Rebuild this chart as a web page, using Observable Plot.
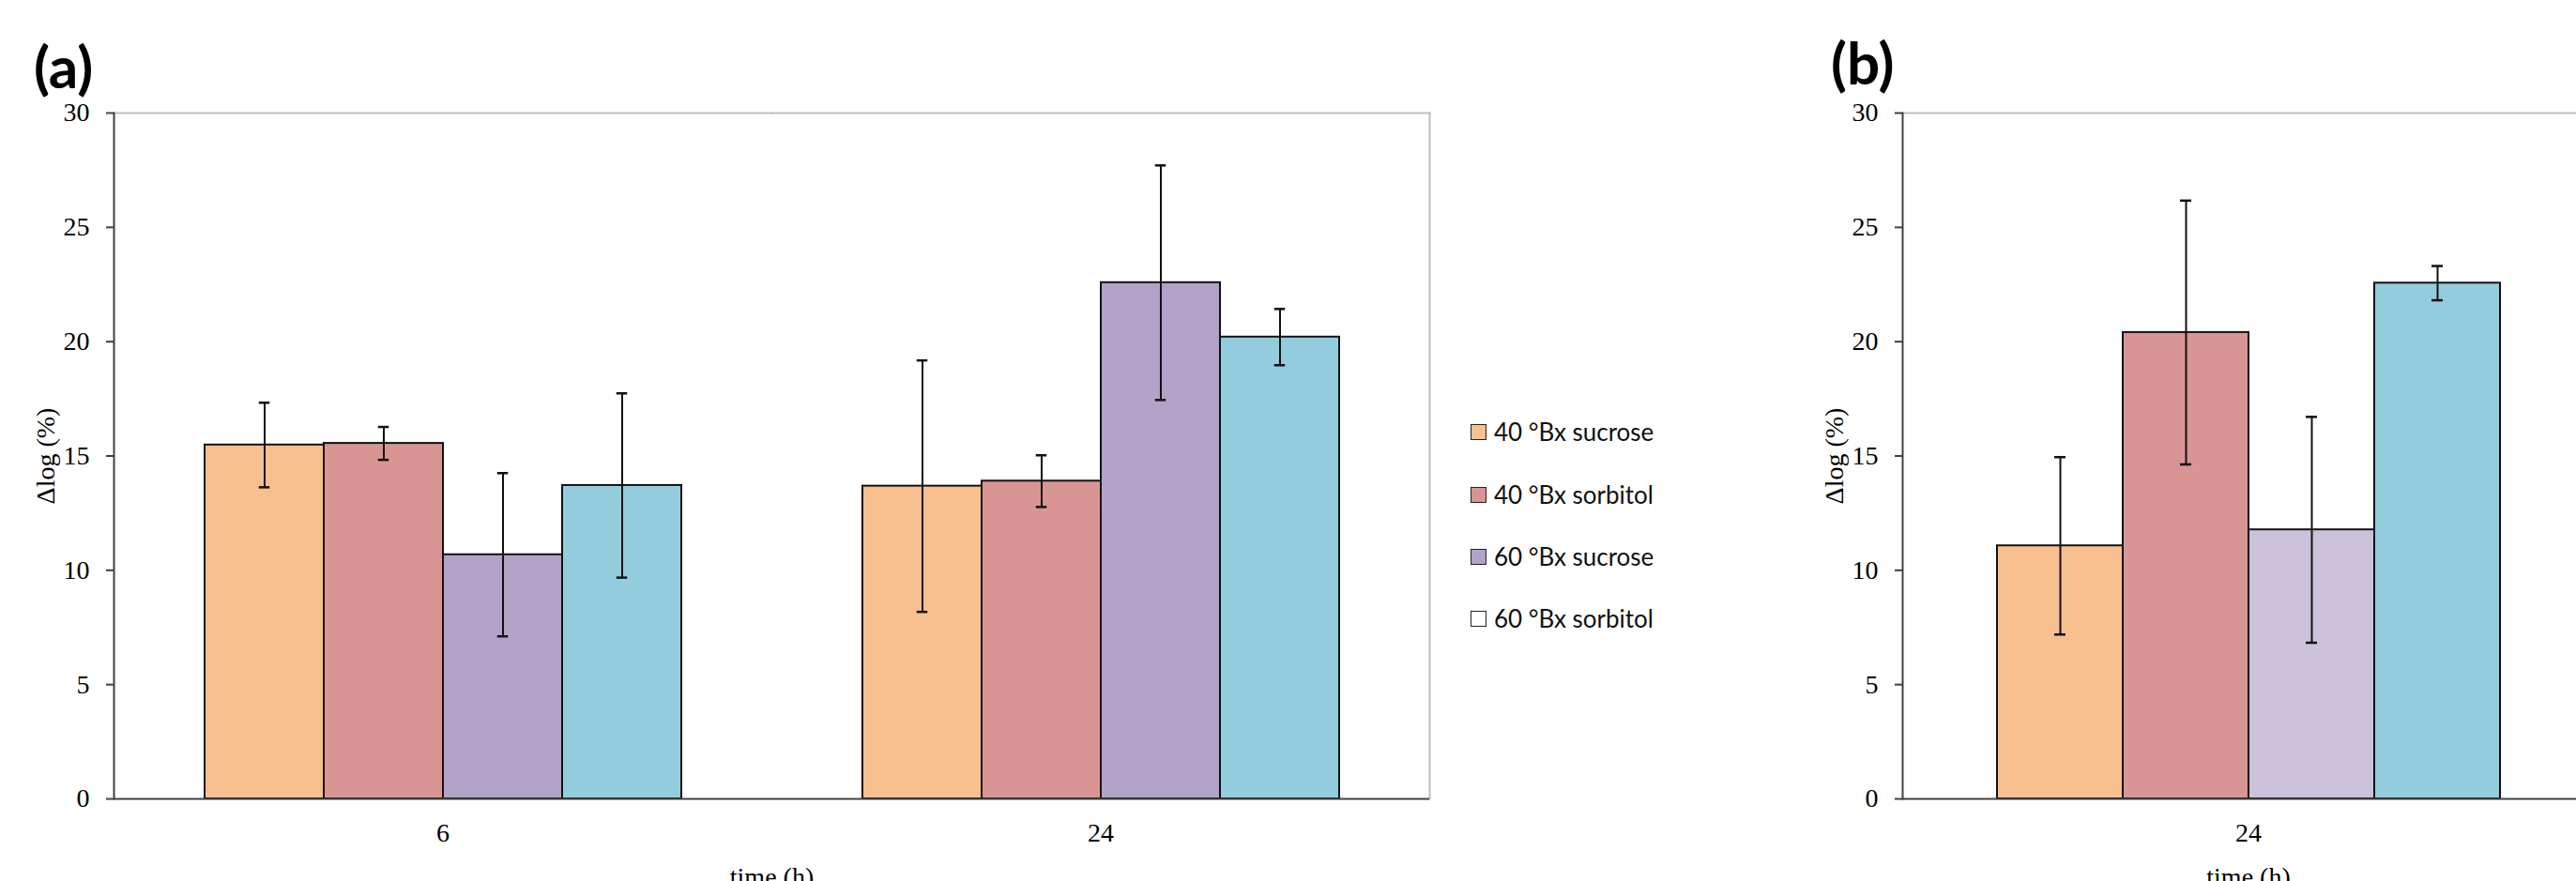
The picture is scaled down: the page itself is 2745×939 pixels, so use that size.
<!DOCTYPE html>
<html>
<head>
<meta charset="utf-8">
<script src="https://cdn.jsdelivr.net/npm/d3@7"></script>
<script src="https://cdn.jsdelivr.net/npm/@observablehq/plot@0.6"></script>
<style>
  html, body { margin: 0; padding: 0; background: #fff; overflow: hidden; }
  #root { position: relative; width: 2745px; height: 939px; overflow: hidden; background: #fff; }
  .panel { position: absolute; top: 0; }
  .tag { position: absolute; font-family: Lato, "Open Sans", sans-serif; font-weight: 700; font-size: 62px; line-height: 62px; color: #000; }
  .leg { position: absolute; left: 1567px; height: 26px; display: flex; align-items: center; font-family: Lato, "Open Sans", sans-serif; font-size: 26px; color: #111; white-space: nowrap; }
  .sw { width: 15px; height: 15px; border: 1.5px solid #222; margin-right: 8px; box-sizing: content-box; }
</style>
</head>
<body>
<div id="root">
  <div id="pa" class="panel" style="left:0px"></div>
  <div id="pb" class="panel" style="left:1900px"></div>
  <div class="tag" style="left:36px;top:39px">(a)</div>
  <div class="tag" style="left:1951px;top:35px">(b)</div>
  <div id="legend"></div>
</div>
<script>
// ---- data ----
const series = ["40 °Bx sucrose", "40 °Bx sorbitol", "60 °Bx sucrose", "60 °Bx sorbitol"];
const timesA = [6, 24];
const timesB = [24];
const meanA6 = [15.48, 15.55, 10.68, 13.71];
const errA6 = [1.85, 0.72, 3.57, 4.03];
const meanA24 = [13.68, 13.90, 22.58, 20.20];
const errA24 = [5.50, 1.13, 5.13, 1.23];
const meanB24 = [11.07, 20.40, 11.77, 22.56];
const errB24 = [3.88, 5.77, 4.94, 0.75];
const colorsA = ["#F9C08F", "#D99594", "#B2A2C7", "#93CDDD"];
const colorsB = ["#F9C08F", "#D99594", "#CCC1DA", "#93CDDD"];
const legendFill = ["#F9C08F", "#D99594", "#B2A2C7", "#FFFFFF"];
const yTicks = [0, 5, 10, 15, 20, 25, 30];
const yLabel = "Δlog (%)";
const xLabel = "time (h)";

function rowsFor(time, means, errs) {
  return series.map((s, i) => ({time, series: s, mean: means[i], lo: means[i] - errs[i], hi: means[i] + errs[i]}));
}
const rowsA = [...rowsFor(6, meanA6, errA6), ...rowsFor(24, meanA24, errA24)];
const rowsB = rowsFor(24, meanB24, errB24);

const axisColor = "#404040";
const borderColor = "#BFBFBF";

function panel({rows, times, colors, width, marginLeft, marginRight, capInset}) {
  return Plot.plot({
    width, height: 960,
    marginLeft, marginRight, marginTop: 120, marginBottom: 109,
    style: {fontFamily: "'Liberation Serif', 'Times New Roman', serif", fontSize: "28px", color: "#000", background: "transparent", maxWidth: "none", overflow: "visible"},
    fx: {domain: times, padding: 0, label: xLabel},
    x: {domain: series, paddingInner: 0, paddingOuter: 0.75, axis: null},
    y: {domain: [0, 30], ticks: yTicks, label: yLabel},
    color: {domain: series, range: colors},
    marks: [
      Plot.barY(rows, {fx: "time", x: "series", y: "mean", fill: "series", stroke: "#111", strokeWidth: 2}),
      Plot.ruleX(rows, {fx: "time", x: "series", y1: "lo", y2: "hi", stroke: "#111", strokeWidth: 2}),
      Plot.tickY(rows, {fx: "time", x: "series", y: "lo", stroke: "#111", strokeWidth: 2.5, insetLeft: capInset, insetRight: capInset}),
      Plot.tickY(rows, {fx: "time", x: "series", y: "hi", stroke: "#111", strokeWidth: 2.5, insetLeft: capInset, insetRight: capInset}),
      Plot.frame({anchor: "top", stroke: borderColor, strokeWidth: 2}),
      Plot.frame({anchor: "right", stroke: borderColor, strokeWidth: 2, facetAnchor: "right"}),
      Plot.frame({anchor: "left", stroke: axisColor, strokeWidth: 2, facetAnchor: "left"}),
      Plot.ruleY([0], {stroke: axisColor, strokeWidth: 2}),
      Plot.axisY({ticks: yTicks, tickSize: 8, tickPadding: 18, stroke: axisColor, strokeWidth: 2, tickFormat: d => String(d),
                  label: yLabel, labelAnchor: "center", labelArrow: "none", labelOffset: 83}),
      Plot.axisFx({anchor: "bottom", tickSize: 0, tickPadding: 26, label: xLabel, labelAnchor: "center", labelArrow: "none", labelOffset: 92})
    ]
  });
}

document.getElementById("pa").append(panel({rows: rowsA, times: timesA, colors: colorsA, width: 1545, marginLeft: 121, marginRight: 22, capInset: 57.75}));
document.getElementById("pb").append(panel({rows: rowsB, times: timesB, colors: colorsB, width: 884, marginLeft: 127, marginRight: 20, capInset: 61}));

// legend (panel a)
const legendTops = [447, 514, 580, 646];
const leg = document.getElementById("legend");
series.forEach((s, i) => {
  const row = document.createElement("div");
  row.className = "leg";
  row.style.top = legendTops[i] + "px";
  const sw = document.createElement("div");
  sw.className = "sw";
  sw.style.background = legendFill[i];
  const t = document.createElement("span");
  t.textContent = s;
  row.append(sw, t);
  leg.append(row);
});
</script>
</body>
</html>
